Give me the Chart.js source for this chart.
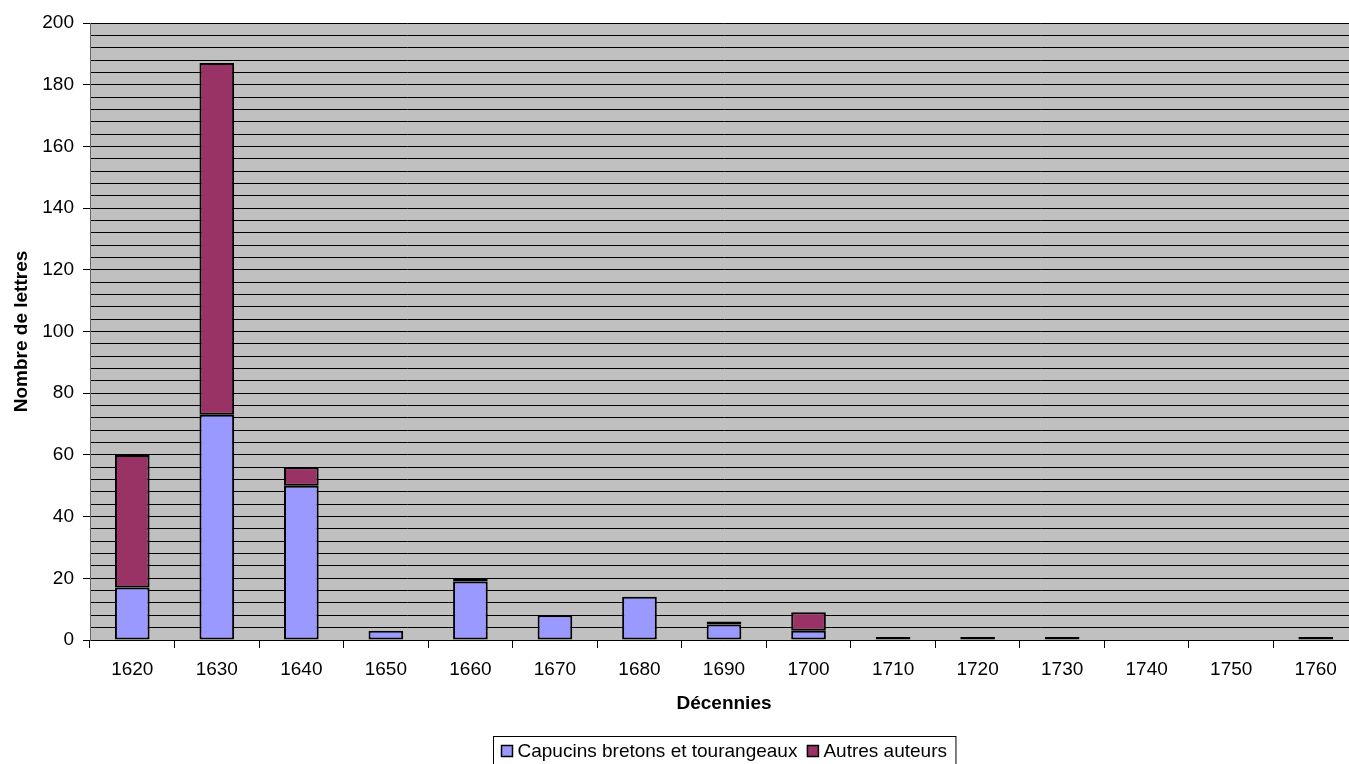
<!DOCTYPE html>
<html>
<head>
<meta charset="utf-8">
<script src="https://cdn.jsdelivr.net/npm/chart.js@4.4.0/dist/chart.umd.min.js"></script>
<style>
  html, body { margin: 0; padding: 0; background: #fff; overflow: hidden; }
  canvas { display: block; }
</style>
</head>
<body>
<canvas id="lettersChart" width="1362" height="768"></canvas>
<script>
// Letters per decade
const decades = ["1620", "1630", "1640", "1650", "1660", "1670", "1680", "1690",
                 "1700", "1710", "1720", "1730", "1740", "1750", "1760"];
const capucins = [17, 73, 50, 3, 19, 8, 14, 5, 3, 1, 0, 1, 0, 0, 1];
const autres = [43, 114, 6, 0, 1, 0, 0, 1, 6, 0, 1, 0, 0, 0, 0];
const seriesLabels = ["Capucins bretons et tourangeaux", "Autres auteurs"];
const seriesColors = ["#9999FF", "#993366"];

const FONT = "'Liberation Sans', Arial, sans-serif";

// Grey plot background like the old spreadsheet charts
const plotBackground = {
  id: "plotBackground",
  beforeDraw(chart) {
    const { ctx, chartArea: a } = chart;
    ctx.save();
    ctx.fillStyle = "#C0C0C0";
    ctx.fillRect(a.left, a.top, a.right - a.left, a.bottom - a.top);
    ctx.restore();
  }
};

// Legend drawn by hand so the framed box matches
const boxedLegend = {
  id: "boxedLegend",
  afterDraw(chart) {
    const { ctx, chartArea: a } = chart;
    ctx.save();
    ctx.font = "19px " + FONT;
    ctx.textBaseline = "middle";
    const sq = 11;
    const widths = seriesLabels.map(l => ctx.measureText(l).width);
    const total = 8 + sq + 5 + widths[0] + 10 + sq + 5 + widths[1] + 9;
    const left = Math.round((a.left + a.right) / 2 - total / 2) + 0.5;
    const top = 736.5;
    ctx.strokeStyle = "#000";
    ctx.lineWidth = 1;
    ctx.fillStyle = "#fff";
    ctx.fillRect(left, top, total, 30);
    ctx.strokeRect(left, top, total, 30);
    let x = left + 8;
    const cy = top + 15;
    seriesLabels.forEach((label, i) => {
      ctx.fillStyle = seriesColors[i];
      ctx.fillRect(x, cy - 6, sq, sq);
      ctx.lineWidth = 1.5;
      ctx.strokeRect(x, cy - 6, sq, sq);
      x += sq + 5;
      ctx.fillStyle = "#000";
      ctx.fillText(label, x, cy);
      x += widths[i] + 10;
    });
    ctx.restore();
  }
};

new Chart(document.getElementById("lettersChart"), {
  type: "bar",
  data: {
    labels: decades,
    datasets: [
      {
        label: seriesLabels[0],
        data: capucins,
        backgroundColor: seriesColors[0],
        borderColor: "#000",
        borderWidth: 2,
        borderSkipped: false
      },
      {
        label: seriesLabels[1],
        data: autres,
        backgroundColor: seriesColors[1],
        borderColor: "#000",
        borderWidth: 2,
        borderSkipped: false
      }
    ]
  },
  options: {
    responsive: false,
    animation: false,
    devicePixelRatio: 1,
    layout: { padding: { top: 23, right: 4, bottom: 32, left: 0 } },
    categoryPercentage: 1,
    barPercentage: 0.41,
    scales: {
      x: {
        stacked: true,
        afterFit: (scale) => { scale.height = 96; },
        grid: {
          offset: true,
          drawOnChartArea: false,
          drawTicks: true,
          tickLength: 8,
          color: "#000"
        },
        border: { color: "#000", width: 1 },
        ticks: { color: "#000", font: { family: FONT, size: 19 }, padding: 10, maxRotation: 0 },
        title: {
          display: true,
          text: "Décennies",
          color: "#000",
          font: { family: FONT, size: 19, weight: "bold" },
          padding: { top: 0, bottom: 21 }
        }
      },
      y: {
        stacked: true,
        min: 0,
        max: 200,
        afterFit: (scale) => { scale.width = 90; },
        grid: {
          color: "#000",
          lineWidth: 1,
          tickLength: 7,
          tickColor: (c) => (c.tick && c.tick.value % 20 === 0 ? "#000" : "rgba(0,0,0,0)")
        },
        border: { color: "#666", width: 1 },
        ticks: {
          stepSize: 4,
          autoSkip: false,
          color: "#000",
          padding: 9,
          font: { family: FONT, size: 19 },
          callback: (v) => (v % 20 === 0 ? v : "")
        },
        title: {
          display: true,
          text: "Nombre de lettres",
          color: "#000",
          font: { family: FONT, size: 19, weight: "bold" },
          padding: { top: 10, bottom: 0 }
        }
      }
    },
    plugins: {
      legend: { display: false },
      tooltip: { enabled: false }
    }
  },
  plugins: [plotBackground, boxedLegend]
});
</script>
</body>
</html>
